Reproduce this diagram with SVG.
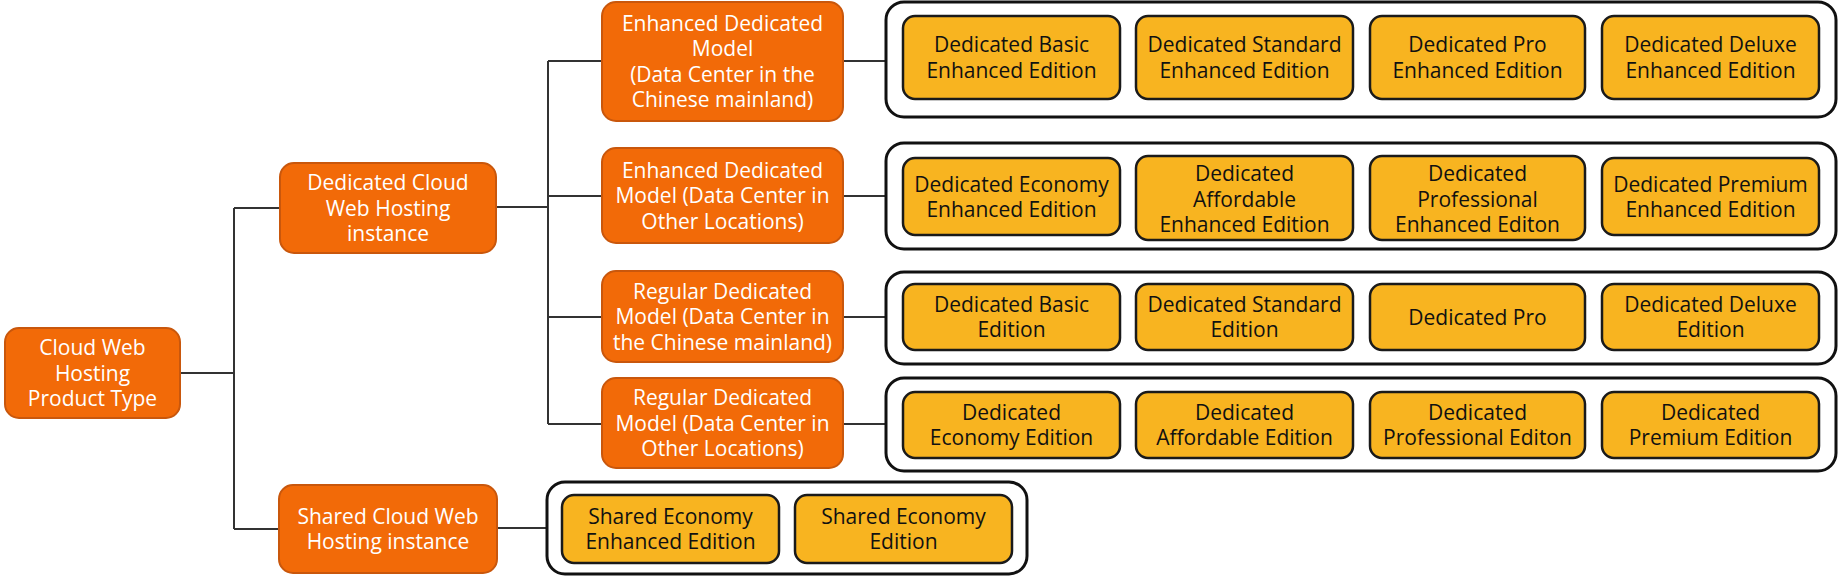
<svg xmlns="http://www.w3.org/2000/svg" width="1840" height="576" viewBox="0 0 1840 576">
<style>
.o{fill:#F26A08;stroke:#C9570C;stroke-width:2}
.y{fill:#F8B420;stroke:#1a1a1a;stroke-width:2.5}
.c{fill:#fff;stroke:#111;stroke-width:3}
.tw{font-family:"Open Sans","Noto Sans",sans-serif;font-size:21px;fill:#fff;text-anchor:middle}
.tb{font-family:"Open Sans","Noto Sans",sans-serif;font-size:21px;fill:#111;text-anchor:middle}
.ln{stroke:#333;stroke-width:2;fill:none}
</style>
<rect width="1840" height="576" fill="#fff"/>
<g id="connectors" class="ln">
<path d="M180 373H234M234 208V529M234 208H280M234 529H279"/>
<path d="M496 207H548M548 61V424M548 61H602M548 196H602M548 317H602M548 424H602"/>
<path d="M843 61H886M843 196H886M843 317H886M843 424H886"/>
<path d="M497 528H547"/>
</g>
<g id="root"><rect class="o" x="5" y="328" width="175" height="90" rx="14"/>
<text class="tw"><tspan x="92.5" y="355">Cloud Web</tspan><tspan x="92.5" y="380.5">Hosting</tspan><tspan x="92.5" y="406">Product Type</tspan></text></g>
<g id="dedicated"><rect class="o" x="280" y="163" width="216" height="90" rx="14"/>
<text class="tw"><tspan x="388" y="190">Dedicated Cloud</tspan><tspan x="388" y="215.5">Web Hosting</tspan><tspan x="388" y="241">instance</tspan></text></g>
<g id="shared"><rect class="o" x="279" y="485" width="218" height="88" rx="14"/>
<text class="tw"><tspan x="388" y="523.75">Shared Cloud Web</tspan><tspan x="388" y="549.25">Hosting instance</tspan></text></g>
<g id="ecn"><rect class="o" x="602" y="2" width="241" height="119" rx="14"/>
<text class="tw"><tspan x="722.5" y="30.75">Enhanced Dedicated</tspan><tspan x="722.5" y="56.25">Model</tspan><tspan x="722.5" y="81.75">(Data Center in the</tspan><tspan x="722.5" y="107.25">Chinese mainland)</tspan></text></g>
<g id="eother"><rect class="o" x="602" y="148" width="241" height="95" rx="14"/>
<text class="tw"><tspan x="722.5" y="177.5">Enhanced Dedicated</tspan><tspan x="722.5" y="203">Model (Data Center in</tspan><tspan x="722.5" y="228.5">Other Locations)</tspan></text></g>
<g id="rcn"><rect class="o" x="602" y="271" width="241" height="91" rx="14"/>
<text class="tw"><tspan x="722.5" y="298.5">Regular Dedicated</tspan><tspan x="722.5" y="324">Model (Data Center in</tspan><tspan x="722.5" y="349.5">the Chinese mainland)</tspan></text></g>
<g id="rother"><rect class="o" x="602" y="378" width="241" height="90" rx="14"/>
<text class="tw"><tspan x="722.5" y="405">Regular Dedicated</tspan><tspan x="722.5" y="430.5">Model (Data Center in</tspan><tspan x="722.5" y="456">Other Locations)</tspan></text></g>
<g id="group1"><rect class="c" x="886" y="2" width="950" height="115" rx="18"/>
<rect class="y" x="903" y="16" width="217" height="83" rx="12"/><text class="tb"><tspan x="1011.5" y="52.25">Dedicated Basic</tspan><tspan x="1011.5" y="77.75">Enhanced Edition</tspan></text>
<rect class="y" x="1136" y="16" width="217" height="83" rx="12"/><text class="tb"><tspan x="1244.5" y="52.25">Dedicated Standard</tspan><tspan x="1244.5" y="77.75">Enhanced Edition</tspan></text>
<rect class="y" x="1370" y="16" width="215" height="83" rx="12"/><text class="tb"><tspan x="1477.5" y="52.25">Dedicated Pro</tspan><tspan x="1477.5" y="77.75">Enhanced Edition</tspan></text>
<rect class="y" x="1602" y="16" width="217" height="83" rx="12"/><text class="tb"><tspan x="1710.5" y="52.25">Dedicated Deluxe</tspan><tspan x="1710.5" y="77.75">Enhanced Edition</tspan></text>
</g>
<g id="group2"><rect class="c" x="886" y="143" width="950" height="106" rx="18"/>
<rect class="y" x="903" y="158" width="217" height="77" rx="12"/><text class="tb"><tspan x="1011.5" y="191.75">Dedicated Economy</tspan><tspan x="1011.5" y="217.25">Enhanced Edition</tspan></text>
<rect class="y" x="1136" y="156" width="217" height="84" rx="12"/><text class="tb"><tspan x="1244.5" y="181">Dedicated</tspan><tspan x="1244.5" y="206.5">Affordable</tspan><tspan x="1244.5" y="232">Enhanced Edition</tspan></text>
<rect class="y" x="1370" y="156" width="215" height="84" rx="12"/><text class="tb"><tspan x="1477.5" y="181">Dedicated</tspan><tspan x="1477.5" y="206.5">Professional</tspan><tspan x="1477.5" y="232">Enhanced Editon</tspan></text>
<rect class="y" x="1602" y="158" width="217" height="77" rx="12"/><text class="tb"><tspan x="1710.5" y="191.75">Dedicated Premium</tspan><tspan x="1710.5" y="217.25">Enhanced Edition</tspan></text>
</g>
<g id="group3"><rect class="c" x="886" y="272" width="950" height="92" rx="18"/>
<rect class="y" x="903" y="284" width="217" height="66" rx="12"/><text class="tb"><tspan x="1011.5" y="311.75">Dedicated Basic</tspan><tspan x="1011.5" y="337.25">Edition</tspan></text>
<rect class="y" x="1136" y="284" width="217" height="66" rx="12"/><text class="tb"><tspan x="1244.5" y="311.75">Dedicated Standard</tspan><tspan x="1244.5" y="337.25">Edition</tspan></text>
<rect class="y" x="1370" y="284" width="215" height="66" rx="12"/><text class="tb"><tspan x="1477.5" y="324.5">Dedicated Pro</tspan></text>
<rect class="y" x="1602" y="284" width="217" height="66" rx="12"/><text class="tb"><tspan x="1710.5" y="311.75">Dedicated Deluxe</tspan><tspan x="1710.5" y="337.25">Edition</tspan></text>
</g>
<g id="group4"><rect class="c" x="886" y="378" width="950" height="93" rx="18"/>
<rect class="y" x="903" y="392" width="217" height="66" rx="12"/><text class="tb"><tspan x="1011.5" y="419.75">Dedicated</tspan><tspan x="1011.5" y="445.25">Economy Edition</tspan></text>
<rect class="y" x="1136" y="392" width="217" height="66" rx="12"/><text class="tb"><tspan x="1244.5" y="419.75">Dedicated</tspan><tspan x="1244.5" y="445.25">Affordable Edition</tspan></text>
<rect class="y" x="1370" y="392" width="215" height="66" rx="12"/><text class="tb"><tspan x="1477.5" y="419.75">Dedicated</tspan><tspan x="1477.5" y="445.25">Professional Editon</tspan></text>
<rect class="y" x="1602" y="392" width="217" height="66" rx="12"/><text class="tb"><tspan x="1710.5" y="419.75">Dedicated</tspan><tspan x="1710.5" y="445.25">Premium Edition</tspan></text>
</g>
<g id="group5"><rect class="c" x="547" y="482" width="480" height="92" rx="18"/>
<rect class="y" x="562" y="495" width="217" height="68" rx="12"/><text class="tb"><tspan x="670.5" y="523.75">Shared Economy</tspan><tspan x="670.5" y="549.25">Enhanced Edition</tspan></text>
<rect class="y" x="795" y="495" width="217" height="68" rx="12"/><text class="tb"><tspan x="903.5" y="523.75">Shared Economy</tspan><tspan x="903.5" y="549.25">Edition</tspan></text>
</g>
</svg>
